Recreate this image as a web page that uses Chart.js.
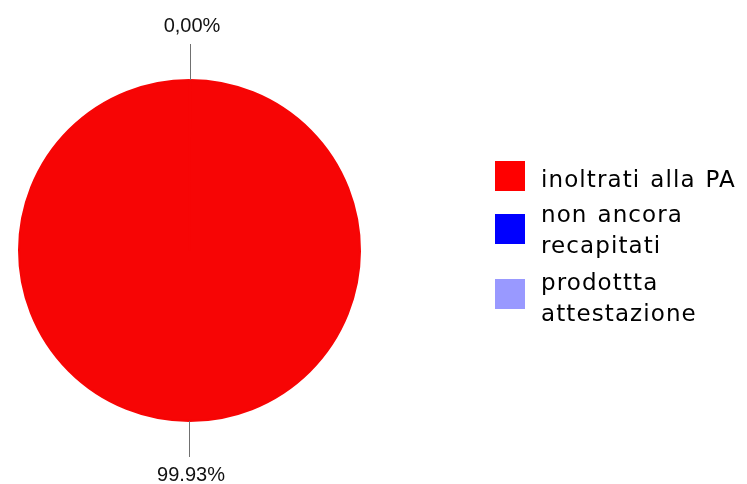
<!DOCTYPE html>
<html>
<head>
<meta charset="utf-8">
<script src="https://cdn.jsdelivr.net/npm/chart.js@4/dist/chart.umd.min.js"></script>
<style>
	html, body { margin: 0; padding: 0; background: #fff; }
	#wrap { width: 747px; height: 484px; }
</style>
</head>
<body>
<div id="wrap"><canvas id="chart"></canvas></div>
<script>
	var categories = ["inoltrati alla PA", "non ancora recapitati", "prodottta attestazione"],
		legendLines = [["inoltrati alla PA"], ["non ancora", "recapitati"], ["prodottta", "attestazione"]],
		values = [99.93, 0.00, 0.07],
		sliceLabels = ["99.93%", "0,00%", ""],
		colors = ["#f70505", "#0000ff", "#9999ff"],
		legendColors = ["#ff0000", "#0000ff", "#9999ff"];

	// slices are drawn in reverse order so the big red one is painted last
	// and hides the hairline seam of the tiny ones at the top
	var order = [2, 1, 0];
	function pick(arr) {
		return order.map(function (i) { return arr[i]; });
	}

	// leader lines + percentage text outside the pie
	var outsideLabels = {
		id: "outsideLabels",
		afterDatasetsDraw: function (chart) {
			var ctx = chart.ctx,
				arcs = chart.getDatasetMeta(0).data,
				texts = pick(sliceLabels);
			ctx.save();
			ctx.font = "20px 'Liberation Sans', Arial, sans-serif";
			ctx.textAlign = "center";
			ctx.textBaseline = "middle";
			arcs.forEach(function (arc, i) {
				if (!texts[i]) {
					return;
				}
				var a = (arc.startAngle + arc.endAngle) / 2,
					r = arc.outerRadius,
					cos = Math.cos(a),
					sin = Math.sin(a),
					x0 = arc.x + cos * r,
					y0 = arc.y + sin * r,
					x1 = arc.x + cos * (r + 36),
					y1 = arc.y + sin * (r + 36);
				ctx.strokeStyle = "#707070";
				ctx.lineWidth = 1;
				ctx.beginPath();
				ctx.moveTo(Math.round(x0) + 0.5, y0);
				ctx.lineTo(Math.round(x1) + 0.5, y1);
				ctx.stroke();
				ctx.fillStyle = "#111";
				ctx.fillText(texts[i], Math.round(x1) + 2, y1 + sin * 18);
			});
			ctx.restore();
		}
	};

	// legend drawn on the right, with wrapped lines
	var sideLegend = {
		id: "sideLegend",
		afterDraw: function (chart) {
			var ctx = chart.ctx,
				boxTops = [161, 214, 279],
				baselines = [[187], [222, 253], [289.5, 320.5]];
			ctx.save();
			ctx.font = "23px 'DejaVu Sans', Verdana, sans-serif";
			ctx.letterSpacing = "1.1px";
			ctx.wordSpacing = "1.5px";
			ctx.textAlign = "left";
			ctx.textBaseline = "alphabetic";
			categories.forEach(function (c, i) {
				ctx.fillStyle = legendColors[i];
				ctx.fillRect(495, boxTops[i], 30, 30);
				ctx.fillStyle = "#000";
				legendLines[i].forEach(function (t, j) {
					ctx.fillText(t, 541, baselines[i][j]);
				});
			});
			ctx.restore();
		}
	};

	new Chart(document.getElementById("chart"), {
		type: "pie",
		data: {
			labels: pick(categories),
			datasets: [{
				data: pick(values),
				backgroundColor: pick(colors),
				borderColor: pick(colors),
				borderWidth: [0, 0, 2]
			}]
		},
		options: {
			responsive: true,
			maintainAspectRatio: false,
			animation: false,
			layout: {padding: {left: 17, right: 385, top: 79, bottom: 62}},
			plugins: {
				legend: {display: false},
				tooltip: {enabled: false}
			}
		},
		plugins: [outsideLabels, sideLegend]
	});
</script>
</body>
</html>
